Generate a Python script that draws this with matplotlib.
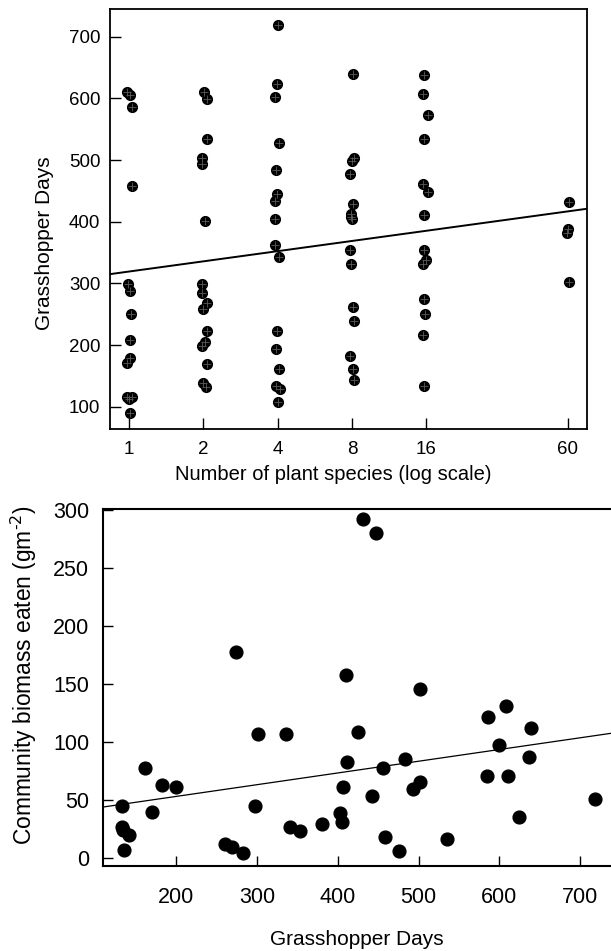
import numpy as np
import matplotlib
matplotlib.use("Agg")
import matplotlib.pyplot as plt

plt.rcParams["font.family"] = ["Liberation Sans", "DejaVu Sans"]

# Top panel: grasshopper days by number of plant species (x slightly jittered)
c1_x = [0.98, 1.01, 1.03, 1.03, 0.99, 1.01, 1.02, 1.01, 1.01, 0.98, 0.98, 1.00, 1.03, 1.01]
c1_y = [611, 605, 586, 458, 299, 288, 250, 208, 179, 171, 115, 113, 115, 90]
c2_x = [2.01, 2.06, 2.06, 1.97, 1.97, 2.02, 1.97, 1.97, 2.06, 1.99, 2.06, 2.02, 1.98, 2.06, 2.00, 2.04]
c2_y = [611, 599, 535, 504, 493, 402, 299, 284, 269, 258, 222, 205, 199, 169, 138, 132]
c4_x = [4.02, 3.99, 3.90, 4.06, 3.95, 3.99, 3.90, 3.91, 3.91, 4.06, 3.99, 3.95, 4.06, 3.94, 4.09, 4.02]
c4_y = [719, 624, 603, 528, 484, 445, 434, 404, 362, 343, 222, 193, 161, 134, 129, 107]
c8_x = [8.05, 8.12, 8.00, 7.88, 8.07, 7.95, 7.95, 8.00, 7.83, 7.93, 8.05, 8.12, 7.88, 8.05, 8.17]
c8_y = [639, 503, 498, 477, 428, 413, 408, 405, 354, 331, 261, 239, 182, 161, 143]
c16_x = [15.75, 15.60, 16.35, 15.75, 15.50, 16.35, 15.66, 15.70, 16.00, 15.50, 15.70, 15.85, 15.50, 15.70]
c16_y = [638, 608, 573, 534, 461, 449, 411, 354, 338, 331, 275, 251, 216, 134]
c60_x = [60.8, 60.0, 59.8, 60.8]
c60_y = [432, 389, 381, 302]

species_ticks = [1, 2, 4, 8, 16, 60]
days_ticks = [100, 200, 300, 400, 500, 600, 700]
top_fit = (319.3, 16.5)  # intercept, slope per doubling

# Bottom panel: biomass eaten vs grasshopper days
gd = [132.8, 133.6, 134.8, 142.2, 136.0, 162.0, 169.9, 182.3, 200.0, 273.9,
      260.6, 269.3, 283.3, 297.4, 301.9, 336.5, 341.5, 353.8, 381.1, 403.3,
      405.8, 406.7, 412.0, 410.4, 425.6, 455.8, 442.6, 458.3, 476.0, 482.6,
      493.7, 502.0, 502.0, 535.0, 585.8, 584.5, 599.4, 608.4, 610.0, 623.6,
      638.5, 636.5, 717.7, 431.0, 447.5]
bio = [44.7, 27.4, 24.5, 19.9, 7.2, 77.4, 40.1, 63.3, 61.5, 177.9,
       12.1, 10.1, 4.6, 45.3, 107.1, 107.1, 27.4, 23.9, 29.5, 39.0,
       31.2, 61.8, 83.2, 158.0, 108.8, 77.7, 53.7, 18.7, 6.1, 86.0,
       59.4, 65.8, 145.8, 17.0, 121.6, 70.7, 97.3, 131.4, 70.7, 35.5,
       112.0, 86.9, 50.8, 292.0, 280.0]
gd_ticks = [200, 300, 400, 500, 600, 700]
bio_ticks = [0, 50, 100, 150, 200, 250, 300]
bottom_fit = (33.1, 0.1011)

fig = plt.figure(figsize=(6.11, 9.51), dpi=100)

# ---- top panel
ax1 = fig.add_axes([0.180, 0.549, 0.781, 0.4415])
xs = np.concatenate([c1_x, c2_x, c4_x, c8_x, c16_x, c60_x])
ys = np.concatenate([c1_y, c2_y, c4_y, c8_y, c16_y, c60_y])
ax1.plot(xs, ys, "o", color="black", markersize=7, zorder=3)
ax1.plot(xs, ys, "+", color="#5a5a5a", markersize=5.5, markeredgewidth=0.6, zorder=4)
ax1.set_xscale("log", base=2)
ax1.set_xlim(0.835, 72)
ax1.set_ylim(64, 745)
xl = np.array(ax1.get_xlim())
ax1.plot(xl, top_fit[0] + top_fit[1] * np.log2(xl), color="black", lw=1.4, zorder=2)
ax1.set_xticks(species_ticks)
ax1.set_xticklabels([str(s) for s in species_ticks])
ax1.xaxis.set_minor_locator(matplotlib.ticker.NullLocator())
ax1.set_yticks(days_ticks)
ax1.tick_params(direction="in", length=8, width=1, labelsize=13.5, pad=9)
ax1.tick_params(axis="y", pad=7)
for s in ax1.spines.values():
    s.set_linewidth(1.3)
ax1.set_xlabel("Number of plant species (log scale)", fontsize=14.5)
ax1.xaxis.set_label_coords(0.467, -0.085)
ax1.set_ylabel("Grasshopper Days", fontsize=15)
ax1.yaxis.set_label_coords(-0.118, 0.443)

# ---- bottom panel
ax2 = fig.add_axes([0.169, 0.0894, 0.831, 0.3754])
ax2.plot(gd, bio, "o", color="black", markersize=9.2, zorder=3)
ax2.set_xlim(110, 738)
ax2.set_ylim(-6.6, 301)
xl2 = np.array(ax2.get_xlim())
ax2.plot(xl2, bottom_fit[0] + bottom_fit[1] * xl2, color="black", lw=0.9, zorder=2)
ax2.set_xticks(gd_ticks)
ax2.set_yticks(bio_ticks)
ax2.tick_params(direction="in", length=7, width=1, labelsize=15.5)
ax2.tick_params(axis="x", pad=15)
ax2.tick_params(axis="y", pad=10)
ax2.spines["right"].set_visible(False)
for s in ax2.spines.values():
    s.set_linewidth(1.5)
ax2.set_xlabel("Grasshopper Days", fontsize=15)
ax2.xaxis.set_label_coords(0.5, -0.18)
ax2.set_ylabel("Community biomass eaten (gm$^{\\text{-2}}$)", fontsize=16.4)
ax2.yaxis.set_label_coords(-0.127, 0.535)

fig.savefig("out.png", dpi=100)
